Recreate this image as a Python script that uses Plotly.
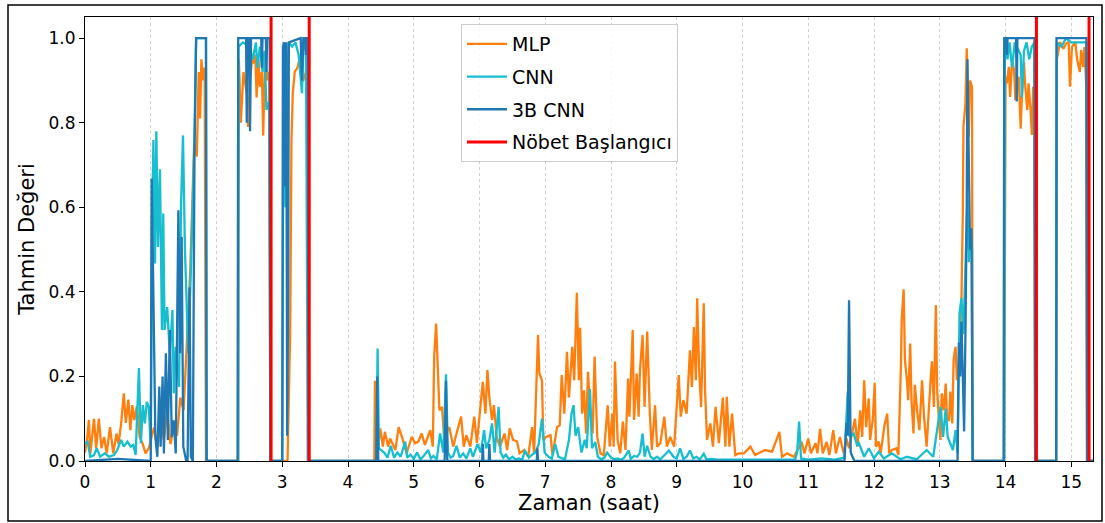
import plotly.graph_objects as go

# ---------------- data ----------------
mlp_t = [0.0, 0.03, 0.06, 0.08, 0.11, 0.137, 0.17, 0.21, 0.25, 0.29, 0.33, 0.38, 0.43, 0.48, 0.51, 0.55,
         0.59, 0.62, 0.66, 0.69, 0.72, 0.75, 0.79, 0.83, 0.88, 0.92, 0.97, 1.0, 1.05, 1.1, 1.15, 1.2,
         1.25, 1.3, 1.35, 1.4, 1.45, 1.5, 1.55, 1.6, 1.63, 1.66, 1.7, 1.73, 1.75, 1.77, 1.8, 1.82, 1.84,
         2.33, 2.34, 2.37, 2.41, 2.46, 2.48, 2.51, 2.54, 2.56, 2.59, 2.61, 2.64, 2.66, 2.69, 2.71, 2.74,
         2.77, 2.8, 2.82, 3.08, 3.1, 3.12, 3.14, 3.16, 3.19, 3.23, 3.27, 3.3, 3.32, 3.36, 3.38, 3.39,
         4.40, 4.41, 4.44, 4.49, 4.53, 4.56, 4.61, 4.64, 4.72, 4.77, 4.82, 4.89, 4.97, 5.02, 5.07, 5.12,
         5.17, 5.25, 5.29, 5.31, 5.34, 5.36, 5.39, 5.43, 5.46, 5.54, 5.60, 5.65, 5.72, 5.76, 5.80, 5.86,
         5.92, 5.96, 6.02, 6.05, 6.09, 6.12, 6.15, 6.19, 6.22, 6.26, 6.31, 6.38, 6.42, 6.46, 6.51, 6.57,
         6.61, 6.68, 6.74, 6.80, 6.83, 6.89, 6.91, 6.95, 6.97, 7.01, 7.08, 7.11, 7.18, 7.22, 7.25, 7.29,
         7.33, 7.36, 7.41, 7.44, 7.48, 7.51, 7.53, 7.56, 7.59, 7.62, 7.65, 7.68, 7.72, 7.75, 7.79, 7.84,
         7.89, 7.95, 7.98, 8.02, 8.04, 8.06, 8.10, 8.14, 8.18, 8.22, 8.26, 8.28, 8.33, 8.35, 8.39, 8.42,
         8.44, 8.48, 8.51, 8.55, 8.59, 8.62, 8.67, 8.70, 8.75, 8.81, 8.85, 8.90, 8.96, 9.03, 9.06, 9.10,
         9.15, 9.20, 9.23, 9.26, 9.29, 9.31, 9.34, 9.37, 9.41, 9.43, 9.46, 9.51, 9.55, 9.59, 9.64, 9.70,
         9.74, 9.76, 9.80, 9.84, 9.89, 9.94, 10.02, 10.12, 10.19, 10.34, 10.45, 10.56, 10.60, 10.68, 10.78,
         10.90, 10.94, 11.00, 11.04, 11.11, 11.14, 11.18, 11.22, 11.28, 11.32, 11.38, 11.42, 11.48, 11.54,
         11.58, 11.62, 11.66, 11.71, 11.75, 11.79, 11.82, 11.85, 11.88, 11.92, 11.94, 11.98, 12.01, 12.03,
         12.07, 12.10, 12.16, 12.20, 12.23, 12.27, 12.34, 12.37, 12.41, 12.42, 12.45, 12.47, 12.50, 12.52,
         12.55, 12.57, 12.60, 12.62, 12.66, 12.69, 12.73, 12.76, 12.80, 12.83, 12.86, 12.88, 12.91, 12.94,
         12.96, 12.99, 13.01, 13.03, 13.06, 13.09, 13.11, 13.14, 13.16, 13.19, 13.21, 13.24, 13.26, 13.29,
         13.33, 13.35, 13.36, 13.39, 13.41, 13.44, 13.46, 13.49, 13.50, 13.98, 14.0, 14.02, 14.05, 14.07,
         14.10, 14.13, 14.15, 14.18, 14.20, 14.23, 14.25, 14.28, 14.30, 14.33, 14.35, 14.38, 14.40, 14.42,
         14.44, 14.45, 14.77, 14.78, 14.81, 14.83, 14.88, 14.92, 14.96, 14.98, 15.01, 15.06, 15.09, 15.13,
         15.15, 15.18, 15.20, 15.23, 15.24, 15.33]
mlp_v = [0.02, 0.05, 0.097, 0.016, 0.06, 0.1, 0.03, 0.1, 0.03, 0.057, 0.018, 0.08, 0.018, 0.065, 0.04, 0.089,
         0.16, 0.09, 0.145, 0.073, 0.132, 0.097, 0.13, 0.057, 0.04, 0.018, 0.03, 0.05, 0.08, 0.03, 0.1, 0.05,
         0.12, 0.04, 0.08, 0.06, 0.15, 0.12, 0.3, 0.45, 0.6, 0.75, 0.72, 0.92, 0.81, 0.95, 0.9, 0.93, 0.0,
         0.0, 0.95, 0.8, 0.92, 0.87, 0.79, 0.9, 0.95, 0.94, 0.96, 0.86, 0.95, 0.885, 0.92, 0.77, 0.96,
         0.9, 0.92, 0.0, 0.0, 0.13, 0.3, 0.76, 0.87, 0.92, 0.93, 0.955, 0.9, 0.9, 0.92, 0.95, 0.0,
         0.0, 0.19, 0.006, 0.077, 0.034, 0.069, 0.034, 0.053, 0.026, 0.08, 0.057, 0.018, 0.057, 0.042, 0.046, 0.065,
         0.038, 0.073, 0.034, 0.247, 0.325, 0.231, 0.12, 0.128, 0.057, 0.08, 0.034, 0.065, 0.105, 0.034, 0.061, 0.034,
         0.105, 0.042, 0.128, 0.187, 0.112, 0.215, 0.15, 0.097, 0.132, 0.057, 0.034, 0.065, 0.026, 0.077, 0.05, 0.046,
         0.018, 0.026, 0.01, 0.08, 0.018, 0.298, 0.207, 0.191, 0.05, 0.057, 0.061, 0.014, 0.08, 0.085, 0.203, 0.112,
         0.258, 0.15, 0.27, 0.191, 0.398, 0.191, 0.315, 0.112, 0.167, 0.065, 0.211, 0.128, 0.065, 0.247, 0.057, 0.018,
         0.014, 0.132, 0.034, 0.112, 0.034, 0.235, 0.05, 0.018, 0.093, 0.026, 0.195, 0.105, 0.31, 0.097, 0.207, 0.105,
         0.215, 0.298, 0.128, 0.306, 0.112, 0.026, 0.132, 0.034, 0.042, 0.105, 0.034, 0.057, 0.034, 0.203, 0.105, 0.144,
         0.112, 0.262, 0.175, 0.317, 0.191, 0.385, 0.215, 0.128, 0.373, 0.167, 0.05, 0.089, 0.034, 0.128, 0.042, 0.15,
         0.034, 0.152, 0.034, 0.112, 0.014, 0.018, 0.018, 0.034, 0.014, 0.026, 0.022, 0.069, 0.01, 0.018, 0.01,
         0.045, 0.018, 0.053, 0.018, 0.042, 0.018, 0.076, 0.018, 0.045, 0.014, 0.073, 0.018, 0.057, 0.018,
         0.053, 0.03, 0.065, 0.1, 0.034, 0.12, 0.057, 0.191, 0.08, 0.148, 0.05, 0.097, 0.185, 0.034,
         0.046, 0.018, 0.085, 0.112, 0.018, 0.026, 0.03, 0.014, 0.231, 0.333, 0.406, 0.239, 0.191, 0.144,
         0.278, 0.144, 0.065, 0.18, 0.112, 0.073, 0.191, 0.105, 0.034, 0.128, 0.191, 0.236, 0.128, 0.369,
         0.167, 0.089, 0.05, 0.16, 0.12, 0.183, 0.097, 0.097, 0.164, 0.089, 0.239, 0.27, 0.191, 0.231,
         0.388, 0.585, 0.79, 0.845, 0.976, 0.767, 0.9, 0.885, 0.0, 0.0, 0.909, 0.893, 0.932, 0.861,
         0.948, 0.924, 0.853, 0.885, 0.909, 0.786, 0.869, 0.944, 0.885, 0.83, 0.893, 0.83, 0.771, 0.885,
         0.853, 0.0, 0.0, 0.95, 0.972, 0.991, 0.975, 0.987, 0.991, 0.885, 0.979, 0.991, 0.948, 0.92,
         0.972, 0.932, 0.979, 0.877, 0.0, 0.0]

cnn_t = [0.0, 0.04, 0.08, 0.137, 0.18, 0.23, 0.3, 0.365, 0.44, 0.49, 0.55, 0.59, 0.645, 0.695, 0.735, 0.77,
         0.82, 0.85, 0.88, 0.91, 0.94, 0.97, 1.0, 1.02, 1.04, 1.065, 1.085, 1.11, 1.14, 1.17, 1.19, 1.21,
         1.25, 1.29, 1.33, 1.35, 1.38, 1.43, 1.46, 1.49, 1.52, 1.57, 1.61, 1.64, 1.66, 1.69, 1.84, 1.85,
         2.33, 2.335, 2.4, 2.5, 2.55, 2.6, 2.62, 2.66, 2.7, 2.73, 2.76, 2.8, 2.82,
         3.0, 3.02, 3.05, 3.07, 3.1, 3.15, 3.2, 3.25, 3.3, 3.32, 3.36, 3.39,
         4.43, 4.45, 4.47, 4.5, 4.55, 4.6, 4.65, 4.7, 4.75, 4.8, 4.87, 4.9, 4.95, 5.0, 5.05, 5.1, 5.15,
         5.22, 5.26, 5.3, 5.35, 5.4, 5.45, 5.49, 5.52, 5.56, 5.6, 5.65, 5.7, 5.75, 5.8, 5.86, 5.9, 5.97,
         6.02, 6.07, 6.1, 6.15, 6.19, 6.23, 6.29, 6.32, 6.36, 6.4, 6.45, 6.5, 6.55, 6.6, 6.65, 6.69, 6.75,
         6.8, 6.85, 6.9, 6.95, 6.99, 7.05, 7.1, 7.15, 7.2, 7.25, 7.3, 7.36, 7.4, 7.43, 7.46, 7.5, 7.55,
         7.6, 7.63, 7.68, 7.71, 7.76, 7.8, 7.85, 7.9, 7.94, 8.0, 8.05, 8.1, 8.15, 8.2, 8.27, 8.3, 8.35,
         8.4, 8.44, 8.48, 8.51, 8.55, 8.6, 8.65, 8.7, 8.75, 8.8, 8.88, 8.95, 9.0, 9.05, 9.1, 9.15, 9.2,
         9.25, 9.3, 9.35, 9.41, 9.45, 9.5, 9.6, 9.8, 10.0, 10.2, 10.5, 10.8, 10.83, 10.86, 10.89,
         11.0, 11.2, 11.4, 11.55, 11.6, 11.63, 11.69, 11.74, 11.77, 11.85, 11.92, 12.0, 12.07, 12.15,
         12.27, 12.4, 12.5, 12.65, 12.8, 12.9, 12.96, 13.01, 13.05, 13.09, 13.12, 13.16, 13.2, 13.24,
         13.27, 13.3, 13.33, 13.36, 13.39, 13.42, 13.44, 13.47, 13.49, 13.5, 13.98, 13.99, 14.03, 14.06,
         14.1, 14.14, 14.2, 14.23, 14.25, 14.28, 14.32, 14.36, 14.4, 14.44, 14.45, 14.77, 14.78, 14.85,
         14.92, 15.0, 15.1, 15.23, 15.24, 15.33]
cnn_v = [0.042, 0.046, 0.01, 0.014, 0.03, 0.01, 0.018, 0.01, 0.014, 0.026, 0.05, 0.034, 0.046, 0.034, 0.038, 0.014,
         0.22, 0.042, 0.132, 0.089, 0.14, 0.128, 0.034, 0.547, 0.759, 0.467, 0.78, 0.506, 0.69, 0.31, 0.585, 0.31,
         0.364, 0.255, 0.357, 0.16, 0.27, 0.175, 0.6, 0.77, 0.5, 0.255, 0.45, 0.61, 0.73, 1.0, 1.0, 0.0,
         0.0, 0.98, 0.99, 0.98, 0.95, 0.99, 0.93, 0.98, 0.92, 0.97, 0.83, 0.85, 0.0,
         0.0, 0.95, 0.6, 0.9, 0.99, 0.98, 0.99, 0.96, 0.87, 0.97, 0.99, 0.0,
         0.0, 0.266, 0.03, 0.026, 0.02, 0.008, 0.036, 0.008, 0.02, 0.01, 0.046, 0.008, 0.015, 0.005, 0.02, 0.004, 0.012,
         0.026, 0.006, 0.012, 0.004, 0.065, 0.02, 0.205, 0.02, 0.008, 0.012, 0.036, 0.008, 0.018, 0.006, 0.03, 0.01, 0.04,
         0.02, 0.073, 0.03, 0.05, 0.089, 0.02, 0.128, 0.02, 0.008, 0.015, 0.004, 0.01, 0.004, 0.006, 0.003, 0.025, 0.008,
         0.015, 0.02, 0.04, 0.1, 0.02, 0.01, 0.006, 0.04, 0.01, 0.006, 0.004, 0.05, 0.113, 0.132, 0.06, 0.08, 0.02,
         0.05, 0.03, 0.17, 0.03, 0.045, 0.01, 0.004, 0.008, 0.02, 0.008, 0.004, 0.006, 0.003, 0.008, 0.025, 0.005, 0.012,
         0.01, 0.02, 0.065, 0.01, 0.036, 0.01, 0.005, 0.01, 0.004, 0.012, 0.025, 0.01, 0.006, 0.03, 0.005, 0.01, 0.025,
         0.006, 0.01, 0.004, 0.017, 0.004, 0.005, 0.004, 0.003, 0.003, 0.003, 0.003, 0.004, 0.02, 0.093, 0.006,
         0.003, 0.006, 0.003, 0.008, 0.164, 0.057, 0.065, 0.038, 0.042, 0.01, 0.03, 0.006, 0.022, 0.006,
         0.018, 0.004, 0.01, 0.004, 0.026, 0.01, 0.073, 0.128, 0.057, 0.124, 0.057, 0.042, 0.026, 0.073,
         0.018, 0.349, 0.385, 0.3, 0.45, 0.62, 0.47, 0.55, 0.5, 0.0, 0.0, 0.99, 0.95, 0.99,
         0.93, 0.99, 0.97, 0.96, 0.86, 0.97, 0.99, 0.95, 0.98, 0.99, 0.0, 0.0, 0.99, 0.98,
         1.0, 0.99, 0.99, 0.99, 0.0, 0.0]

cnn3d_t = [0.0, 0.5, 1.0, 1.014, 1.03, 1.05, 1.07, 1.1, 1.13, 1.15, 1.18, 1.2, 1.23, 1.26, 1.29, 1.32,
           1.35, 1.38, 1.42, 1.445, 1.47, 1.495, 1.54, 1.56, 1.59, 1.61, 1.64, 1.665, 1.69, 1.84, 1.85,
           2.32, 2.33, 2.45, 2.46, 2.475, 2.5, 2.51, 2.525, 2.68, 2.69, 2.70, 2.75, 2.76, 2.77, 2.81, 2.82,
           3.0, 3.01, 3.03, 3.045, 3.06, 3.075, 3.09, 3.1, 3.28, 3.3, 3.32, 3.35, 3.36, 3.37, 3.39, 3.40,
           4.43, 4.445, 4.46, 5.47, 5.49, 5.51, 6.04, 6.05, 6.06, 6.14, 6.15, 6.16, 6.87, 6.88, 6.89,
           11.55, 11.58, 11.6, 11.62, 11.645, 11.7, 13.27, 13.29, 13.31, 13.33, 13.35, 13.37, 13.39, 13.41,
           13.42, 13.44, 13.46, 13.48, 13.5, 13.97, 13.98, 14.01, 14.02, 14.03, 14.16, 14.17, 14.18, 14.44,
           14.45, 14.77, 14.775, 15.23, 15.24, 15.33]
cnn3d_v = [0.0, 0.005, 0.0, 0.668, 0.507, 0.255, 0.057, 0.01, 0.176, 0.034, 0.2, 0.018, 0.255, 0.05, 0.31, 0.057,
           0.096, 0.018, 0.593, 0.255, 0.53, 0.034, 0.0, 0.0, 0.411, 0.01, 0.0, 0.727, 1.0, 1.0, 0.0,
           0.0, 1.0, 1.0, 0.8, 1.0, 1.0, 0.78, 1.0, 1.0, 0.93, 1.0, 1.0, 0.92, 1.0, 1.0, 0.0,
           0.0, 0.98, 0.99, 0.65, 0.99, 0.06, 0.4, 0.99, 1.0, 0.9, 1.0, 1.0, 0.96, 1.0, 1.0, 0.0,
           0.0, 0.2, 0.0, 0.0, 0.19, 0.0, 0.0, 0.04, 0.0, 0.0, 0.04, 0.0, 0.0, 0.03, 0.0,
           0.0, 0.09, 0.06, 0.38, 0.02, 0.0, 0.0, 0.28, 0.2, 0.33, 0.22, 0.07, 0.3, 0.6,
           0.95, 0.7, 0.5, 0.55, 0.0, 0.0, 1.0, 1.0, 0.96, 1.0, 1.0, 0.85, 1.0, 1.0,
           0.0, 0.0, 1.0, 1.0, 0.0, 0.0]

onset_hours = [2.83, 3.41, 14.47, 15.27]

series_names = ["MLP", "CNN", "3B CNN", "Nöbet Başlangıcı"]
x_ticks = list(range(0, 16))
y_ticks = [0.0, 0.2, 0.4, 0.6, 0.8, 1.0]

# ---------------- figure ----------------
FONT = "DejaVu Sans"
LW = 2.3
fig = go.Figure()
fig.add_trace(go.Scatter(x=mlp_t, y=mlp_v, mode="lines", name=series_names[0],
                         line=dict(color="#ff7f0e", width=LW), legendgroup="a"))
fig.add_trace(go.Scatter(x=cnn_t, y=cnn_v, mode="lines", name=series_names[1],
                         line=dict(color="#17becf", width=LW), legendgroup="b"))
fig.add_trace(go.Scatter(x=cnn3d_t, y=cnn3d_v, mode="lines", name=series_names[2],
                         line=dict(color="#1f77b4", width=LW), legendgroup="c"))
ox, oy = [], []
for h in onset_hours:
    ox += [h, h, None]
    oy += [0, 1.05, None]
fig.add_trace(go.Scatter(x=ox, y=oy, mode="lines", name=series_names[3],
                         line=dict(color="#ff0000", width=3), legendgroup="d"))

L, R, T, B = 85, 12, 17, 62
W, H = 1105, 523
pw, ph = W - L - R, H - T - B

fig.update_layout(
    width=W, height=H,
    margin=dict(l=L, r=R, t=T, b=B),
    paper_bgcolor="white", plot_bgcolor="white",
    font=dict(family=FONT, size=16, color="black"),
    showlegend=True,
    legend=dict(x=(461 - L) / pw, y=(461 - 24) / ph, xanchor="left", yanchor="top",
                bordercolor="#cccccc", borderwidth=1, bgcolor="rgba(255,255,255,0.85)",
                font=dict(family=FONT, size=19), tracegroupgap=5, itemwidth=40),
    xaxis=dict(range=[0, 15.33], tickmode="array", tickvals=x_ticks,
               ticktext=[str(v) for v in x_ticks],
               showgrid=True, gridcolor="#cfcfcf", griddash="dot", gridwidth=1,
               showline=True, linecolor="black", linewidth=1.2, mirror=True,
               ticks="outside", ticklen=5, tickcolor="black", zeroline=False,
               tickfont=dict(size=17),
               title=dict(text="Zaman (saat)", font=dict(size=21), standoff=4)),
    yaxis=dict(range=[0, 1.05], tickmode="array", tickvals=y_ticks,
               ticktext=[f"{v:.1f}" for v in y_ticks],
               showgrid=False, showline=True, linecolor="black", linewidth=1.2, mirror=True,
               ticks="outside", ticklen=5, tickcolor="black", zeroline=False,
               tickfont=dict(size=17),
               title=dict(text="Tahmin Değeri", font=dict(size=21), standoff=8)),
)

# outer figure frame
fig.add_shape(type="rect", xref="paper", yref="paper",
              x0=(8 - L) / pw, x1=(1102 - L) / pw,
              y0=(461 - 521) / ph, y1=(461 - 5) / ph,
              line=dict(color="black", width=1.5), fillcolor="rgba(0,0,0,0)", layer="below")

fig.write_html("out.html")
